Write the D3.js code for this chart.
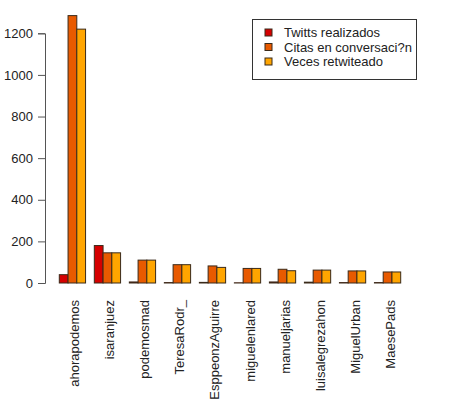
<!DOCTYPE html>
<html><head><meta charset="utf-8">
<script src="https://cdn.jsdelivr.net/npm/d3@7"></script>
<style>body{margin:0;background:#fff}svg{display:block}text{font-family:"Liberation Sans",Arial,sans-serif}</style>
</head><body>
<script>
const categories = ["ahorapodemos","isaranjuez","podemosmad","TeresaRodr_","EsppeonzAguirre","miguelenlared","manueljarias","luisalegrezahon","MiguelUrban","MaesePads"];
const seriesNames = ["Twitts realizados","Citas en conversaci?n","Veces retwiteado"];
const tweets = [40,180,5,2,3,1,5,4,2,2];
const citas = [1285,145,110,88,82,70,66,62,58,53];
const retweets = [1220,145,110,88,75,70,59,62,58,53];
const yTicks = [0,200,400,600,800,1000,1200];
const colors = ["#D50000","#E85A00","#FFA500"];

const W=460,H=408;
const svg=d3.select("body").append("svg").attr("width",W).attr("height",H);
const series=[tweets,citas,retweets];
const x=d3.scaleLinear().domain([1,40]).range([59.3,400.7]);
const y=d3.scaleLinear().domain([0,1200]).range([283,33.3]);

const g=svg.append("g");
categories.forEach((c,i)=>{
  series.forEach((s,j)=>{
    const u=i*4+1+j;
    g.append("rect")
      .attr("x",x(u)).attr("width",x(u+1)-x(u))
      .attr("y",y(s[i])).attr("height",y(0)-y(s[i]))
      .attr("fill",colors[j]).attr("stroke","#3a2a1a").attr("stroke-width",1);
  });
  const cx=x(i*4+2.5);
  svg.append("text").attr("transform",`translate(${cx+7},300) rotate(-90)`)
    .attr("text-anchor","end").attr("font-size",13).attr("fill","#222").text(c);
});

const axis=d3.axisLeft(y).tickValues(yTicks).tickFormat(d3.format("d")).tickSize(7).tickPadding(5);
const ag=svg.append("g").attr("transform","translate(45,0)").call(axis);
ag.selectAll("path,line").attr("stroke","#555");
ag.selectAll("text").attr("font-size",13).attr("fill","#222").attr("font-family","'Liberation Sans',Arial,sans-serif");

const lg=svg.append("g");
lg.append("rect").attr("x",252.5).attr("y",19.5).attr("width",164).attr("height",60)
  .attr("fill","#fff").attr("stroke","#333");
seriesNames.forEach((n,j)=>{
  const cy=32.5+j*14.5;
  lg.append("rect").attr("x",265).attr("y",cy-3.5).attr("width",7).attr("height",7)
    .attr("fill",colors[j]).attr("stroke","#3a2a1a");
  lg.append("text").attr("x",284).attr("y",cy+4.5).attr("font-size",13).attr("fill","#222").text(n);
});
</script>
</body></html>
